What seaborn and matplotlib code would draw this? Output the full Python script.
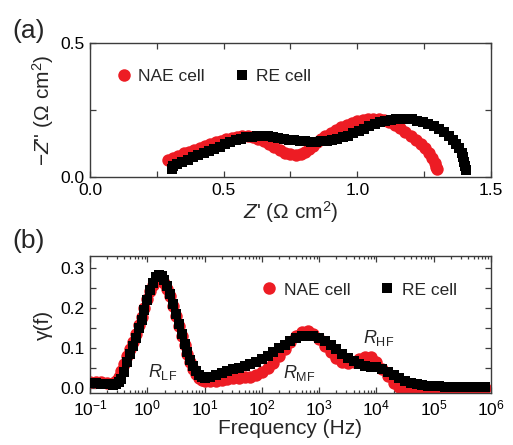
import matplotlib
matplotlib.use('Agg')
import numpy as np
import matplotlib.pyplot as plt
from matplotlib.lines import Line2D
from matplotlib.ticker import MultipleLocator, LogLocator, NullFormatter, FormatStrFormatter
import seaborn as sns

# ---- Nyquist data (Z', -Z'') ----
nae_zre = [0.293, 0.310, 0.330, 0.350, 0.370, 0.390, 0.410, 0.430, 0.450, 0.470,
           0.490, 0.510, 0.530, 0.550, 0.570, 0.590, 0.610, 0.630, 0.650, 0.670,
           0.690, 0.710, 0.730, 0.750, 0.770, 0.790, 0.805, 0.820, 0.835, 0.850,
           0.865, 0.880, 0.900, 0.920, 0.940, 0.960, 0.980, 1.000, 1.020, 1.040,
           1.060, 1.080, 1.100, 1.120, 1.140, 1.160, 1.180, 1.200, 1.220, 1.240,
           1.255, 1.268, 1.280, 1.290, 1.296, 1.298]
nae_zim = [0.066, 0.073, 0.081, 0.089, 0.096, 0.103, 0.110, 0.117, 0.124, 0.130,
           0.136, 0.142, 0.147, 0.151, 0.153, 0.153, 0.150, 0.144, 0.135, 0.124,
           0.112, 0.101, 0.092, 0.086, 0.083, 0.086, 0.094, 0.105, 0.118, 0.131,
           0.143, 0.154, 0.166, 0.177, 0.187, 0.196, 0.203, 0.209, 0.214, 0.217,
           0.219, 0.219, 0.215, 0.207, 0.196, 0.183, 0.170, 0.155, 0.140, 0.124,
           0.108, 0.091, 0.073, 0.055, 0.040, 0.032]

re_zre = [0.305, 0.310, 0.325, 0.345, 0.365, 0.385, 0.405, 0.425, 0.445, 0.465,
          0.485, 0.505, 0.525, 0.545, 0.565, 0.585, 0.605, 0.625, 0.645, 0.665,
          0.685, 0.705, 0.725, 0.745, 0.765, 0.785, 0.805, 0.825, 0.845, 0.865,
          0.885, 0.905, 0.925, 0.945, 0.965, 0.985, 1.005, 1.025, 1.045, 1.065,
          1.085, 1.105, 1.125, 1.145, 1.165, 1.185, 1.205, 1.225, 1.245, 1.265,
          1.285, 1.305, 1.325, 1.342, 1.357, 1.370, 1.381, 1.390, 1.396, 1.400,
          1.403, 1.405]
re_zim = [0.030, 0.042, 0.050, 0.058, 0.066, 0.075, 0.083, 0.091, 0.099, 0.107,
          0.115, 0.123, 0.131, 0.138, 0.144, 0.149, 0.152, 0.154, 0.154, 0.153,
          0.150, 0.147, 0.144, 0.141, 0.138, 0.136, 0.134, 0.133, 0.133, 0.134,
          0.136, 0.139, 0.143, 0.149, 0.156, 0.164, 0.172, 0.181, 0.190, 0.198,
          0.205, 0.211, 0.215, 0.218, 0.219, 0.218, 0.216, 0.212, 0.207, 0.200,
          0.192, 0.182, 0.170, 0.156, 0.141, 0.125, 0.108, 0.091, 0.074, 0.058,
          0.043, 0.028]

# ---- DRT data: log10(frequency / Hz) and gamma(f) ----
log_freq = [-1.0, -0.9, -0.8, -0.7, -0.6,
            -0.55, -0.5, -0.45, -0.4, -0.35, -0.3, -0.25, -0.2, -0.15, -0.1,
            -0.05, 0.0, 0.05, 0.1, 0.15, 0.2, 0.25, 0.3, 0.35, 0.4,
            0.45, 0.5, 0.55, 0.6, 0.65, 0.7, 0.75, 0.8, 0.85, 0.9,
            0.95, 1.0,
            1.1, 1.2, 1.3, 1.4, 1.5, 1.6, 1.7, 1.8, 1.9, 2.0,
            2.1, 2.2, 2.3, 2.4, 2.5, 2.6, 2.7, 2.8, 2.9, 3.0,
            3.1, 3.2, 3.3, 3.4, 3.5, 3.6, 3.7, 3.8, 3.9, 4.0,
            4.1, 4.2, 4.3, 4.4, 4.5, 4.6, 4.7, 4.8, 4.9, 5.0,
            5.1, 5.2, 5.3, 5.4, 5.5, 5.6, 5.7, 5.8, 5.9]
nae_gamma = [0.015, 0.016, 0.015, 0.013, 0.014,
             0.018, 0.027, 0.042, 0.060, 0.080, 0.098, 0.115, 0.135, 0.157, 0.178,
             0.200, 0.222, 0.242, 0.257, 0.268, 0.272, 0.270, 0.262, 0.248, 0.229,
             0.206, 0.181, 0.156, 0.131, 0.107, 0.085, 0.065, 0.048, 0.035, 0.026,
             0.021, 0.019,
             0.018, 0.019, 0.021, 0.023, 0.025, 0.026, 0.027, 0.029, 0.033, 0.040,
             0.050, 0.064, 0.080, 0.098, 0.115, 0.130, 0.140, 0.142, 0.136, 0.123,
             0.106, 0.090, 0.076, 0.066, 0.062, 0.066, 0.074, 0.079, 0.077, 0.066,
             0.049, 0.030, 0.014, 0.004, 0.000, 0.000, 0.000, 0.000, 0.000, 0.000,
             0.000, 0.000, 0.000, 0.000, 0.000, 0.000, 0.000, 0.000, 0.000]
re_gamma = [0.012, 0.012, 0.011, 0.010, 0.009,
            0.010, 0.015, 0.024, 0.040, 0.065, 0.085, 0.105, 0.125, 0.150, 0.170,
            0.195, 0.220, 0.245, 0.263, 0.277, 0.283, 0.280, 0.270, 0.255, 0.235,
            0.210, 0.185, 0.160, 0.135, 0.110, 0.090, 0.070, 0.055, 0.042, 0.033,
            0.028, 0.026,
            0.028, 0.032, 0.037, 0.042, 0.047, 0.051, 0.055, 0.060, 0.066, 0.073,
            0.081, 0.090, 0.099, 0.108, 0.117, 0.124, 0.130, 0.131, 0.130, 0.126,
            0.118, 0.108, 0.097, 0.086, 0.076, 0.068, 0.060, 0.056, 0.054, 0.052,
            0.048, 0.041, 0.033, 0.025, 0.018, 0.013, 0.010, 0.008, 0.006, 0.005,
            0.005, 0.004, 0.004, 0.003, 0.003, 0.003, 0.002, 0.002, 0.002]

labels = ['NAE cell', 'RE cell']
RED = '#ed1c24'
SPINE = '#3c3c3c'

sns.set_theme(style='ticks')
plt.rcParams['font.family'] = ['Liberation Sans', 'DejaVu Sans']
plt.rcParams['mathtext.fontset'] = 'custom'
plt.rcParams['mathtext.rm'] = 'Liberation Sans'
plt.rcParams['mathtext.it'] = 'Liberation Sans:italic'
plt.rcParams['mathtext.default'] = 'regular'
plt.rcParams['axes.unicode_minus'] = True

fig = plt.figure(figsize=(5.13, 4.45), dpi=100)
ax1 = fig.add_axes([0.1754, 0.6016, 0.7817, 0.3007])
ax2 = fig.add_axes([0.1754, 0.1162, 0.7817, 0.3092])


def style_axes(ax):
    for s in ax.spines.values():
        s.set_color(SPINE)
        s.set_linewidth(1.0)
    ax.tick_params(which='both', direction='in', top=True, right=True,
                   color=SPINE, width=0.9, labelsize=12.5, labelcolor='black', pad=4)


def add_legend(ax, x0, y0):
    handles = [Line2D([], [], ls='none', marker='o', ms=9, color=RED, mew=0),
               Line2D([], [], ls='none', marker='s', ms=7.6, color='black', mew=0)]
    ax.legend(handles, labels, ncol=2, frameon=False, fontsize=12.5,
              loc='center left', bbox_to_anchor=(x0, y0), borderaxespad=0,
              borderpad=0, handlelength=1.0, handletextpad=0.36,
              columnspacing=1.6)


# ---- (a) Nyquist ----
sns.scatterplot(x=nae_zre, y=nae_zim, ax=ax1, color=RED, marker='o', s=80,
                linewidth=0, legend=False, zorder=2)
sns.scatterplot(x=re_zre, y=re_zim, ax=ax1, color='black', marker='s', s=57,
                linewidth=0, legend=False, zorder=3)
ax1.set_xlim(0, 1.5)
ax1.set_ylim(0, 0.5)
ax1.xaxis.set_major_locator(MultipleLocator(0.5))
ax1.xaxis.set_minor_locator(MultipleLocator(0.25))
ax1.yaxis.set_major_locator(MultipleLocator(0.5))
ax1.yaxis.set_minor_locator(MultipleLocator(0.25))
ax1.xaxis.set_major_formatter(FormatStrFormatter('%.1f'))
ax1.yaxis.set_major_formatter(FormatStrFormatter('%.1f'))
style_axes(ax1)
ax1.tick_params(which='both', length=4.5)
ax1.set_xlabel("$\\mathit{Z}$' (Ω cm$^2$)", fontsize=15, labelpad=1)
ax1.set_ylabel("$-\\mathit{Z}$'' (Ω cm$^2$)", fontsize=15, labelpad=3)
add_legend(ax1, 0.062, 0.752)

# ---- (b) DRT ----
freq = 10 ** np.array(log_freq)
sns.scatterplot(x=freq, y=nae_gamma, ax=ax2, color=RED, marker='o', s=80,
                linewidth=0, legend=False, zorder=2)
sns.scatterplot(x=freq, y=re_gamma, ax=ax2, color='black', marker='s', s=57,
                linewidth=0, legend=False, zorder=3)
ax2.set_xscale('log')
ax2.set_xlim(0.1, 1e6)
ax2.set_ylim(-0.0125, 0.33)
ax2.xaxis.set_major_locator(LogLocator(base=10, numticks=12))
ax2.xaxis.set_minor_locator(LogLocator(base=10, subs=np.arange(2, 10), numticks=12))
ax2.xaxis.set_minor_formatter(NullFormatter())
ax2.yaxis.set_major_locator(MultipleLocator(0.1))
ax2.yaxis.set_minor_locator(MultipleLocator(0.05))
ax2.yaxis.set_major_formatter(FormatStrFormatter('%.1f'))
style_axes(ax2)
ax2.tick_params(axis='x', which='major', length=4.5)
ax2.tick_params(axis='x', which='minor', length=2.3)
ax2.tick_params(axis='y', which='both', length=4)
ax2.set_xlabel('Frequency (Hz)', fontsize=15, labelpad=0)
ax2.set_ylabel('γ(f)', fontsize=15, labelpad=5)
add_legend(ax2, 0.424, 0.751)

ax2.text(1.03, 0.029, '$\\mathit{R}_{LF}$', fontsize=13, ha='left', va='baseline')
ax2.text(236, 0.026, '$\\mathit{R}_{MF}$', fontsize=13, ha='left', va='baseline')
ax2.text(5750, 0.112, '$\\mathit{R}_{HF}$', fontsize=13, ha='left', va='baseline')

fig.text(0.024, 0.930, '(a)', fontsize=19, ha='left', va='center')
fig.text(0.024, 0.458, '(b)', fontsize=19, ha='left', va='center')

fig.savefig('out.png', dpi=100)
